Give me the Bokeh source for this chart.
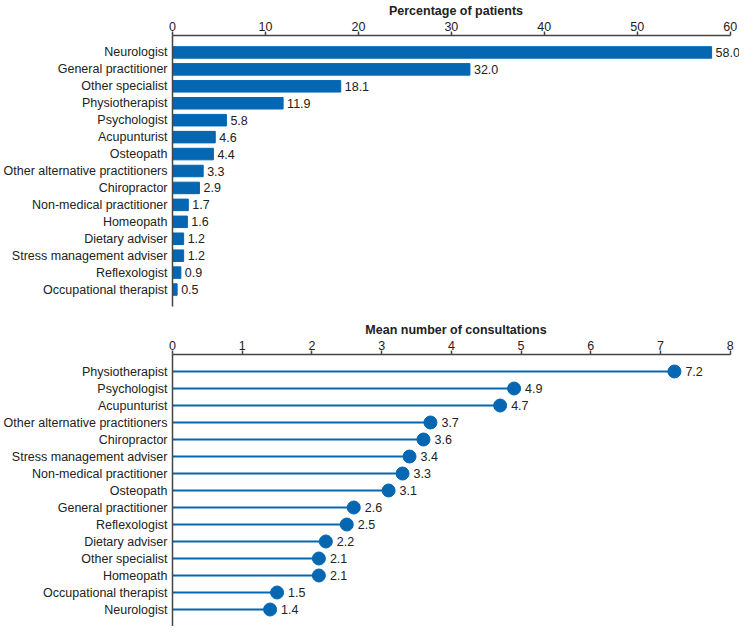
from bokeh.plotting import figure
from bokeh.models import ColumnDataSource, LabelSet, FactorRange, Range1d, FixedTicker
from bokeh.layouts import column
from bokeh.core.properties import value
from bokeh.embed import file_html
from bokeh.resources import INLINE

# ---- data ----
pct_categories = ["Neurologist", "General practitioner", "Other specialist", "Physiotherapist",
                  "Psychologist", "Acupunturist", "Osteopath", "Other alternative practitioners",
                  "Chiropractor", "Non-medical practitioner", "Homeopath", "Dietary adviser",
                  "Stress management adviser", "Reflexologist", "Occupational therapist"]
pct_values = [58.0, 32.0, 18.1, 11.9, 5.8, 4.6, 4.4, 3.3, 2.9, 1.7, 1.6, 1.2, 1.2, 0.9, 0.5]
pct_ticks = [0, 10, 20, 30, 40, 50, 60]

cons_categories = ["Physiotherapist", "Psychologist", "Acupunturist", "Other alternative practitioners",
                   "Chiropractor", "Stress management adviser", "Non-medical practitioner", "Osteopath",
                   "General practitioner", "Reflexologist", "Dietary adviser", "Other specialist",
                   "Homeopath", "Occupational therapist", "Neurologist"]
cons_values = [7.2, 4.9, 4.7, 3.7, 3.6, 3.4, 3.3, 3.1, 2.6, 2.5, 2.2, 2.1, 2.1, 1.5, 1.4]
cons_ticks = [0, 1, 2, 3, 4, 5, 6, 7, 8]

BLUE = "#0567b2"
FONT = "Liberation Sans"
FS = "12.5px"
TXT = "#222222"
AX = "#444444"
W = 739
LEFT = 168
PAD = 1.0 / 15


def style(p, ticks, label):
    p.xaxis.ticker = FixedTicker(ticks=ticks)
    p.xaxis.bounds = (ticks[0], ticks[-1])
    p.xaxis.minor_tick_line_color = None
    p.xaxis.major_tick_out = 4
    p.xaxis.major_tick_in = 0
    p.xaxis.major_label_standoff = 1
    p.xaxis.axis_label = label
    p.xaxis.axis_label_standoff = 1
    p.xaxis.axis_label_text_font_style = "bold"
    p.xaxis.axis_label_text_font = FONT
    p.xaxis.axis_label_text_font_size = FS
    p.xaxis.axis_label_text_color = TXT
    for ax in (p.xaxis, p.yaxis):
        ax.axis_line_color = AX
        ax.axis_line_width = 1.5
        ax.major_tick_line_color = AX
        ax.major_tick_line_width = 1.5
        ax.major_label_text_font = FONT
        ax.major_label_text_font_size = FS
        ax.major_label_text_color = TXT
    p.yaxis.major_tick_line_color = None
    p.yaxis.minor_tick_line_color = None
    p.yaxis.major_tick_out = 0
    p.yaxis.major_tick_in = 0
    p.yaxis.major_label_standoff = 5
    p.xgrid.grid_line_color = None
    p.ygrid.grid_line_color = None
    p.outline_line_color = None


# ---- top: percentage of patients ----
src1 = ColumnDataSource(dict(cat=pct_categories, val=pct_values,
                             lab=[f"{v:.1f}" for v in pct_values]))
p1 = figure(width=W, height=314,
            y_range=FactorRange(factors=list(reversed(pct_categories)), range_padding=PAD),
            x_range=Range1d(0, 61.0), x_axis_location="above",
            output_backend="svg", toolbar_location=None,
            min_border_left=LEFT, min_border_right=0, min_border_top=34, min_border_bottom=8)
p1.hbar(y="cat", left=0, right="val", height=0.68, source=src1,
        fill_color=BLUE, line_color=BLUE)
p1.add_layout(LabelSet(x="val", y="cat", text="lab", source=src1, x_offset=4,
                       text_baseline="middle", text_font=value(FONT),
                       text_font_size=value(FS), text_color=TXT))
style(p1, pct_ticks, "Percentage of patients")

# ---- bottom: mean number of consultations ----
src2 = ColumnDataSource(dict(cat=cons_categories, val=cons_values,
                             zero=[0] * len(cons_values),
                             lab=[f"{v:.1f}" for v in cons_values]))
p2 = figure(width=W, height=312,
            y_range=FactorRange(factors=list(reversed(cons_categories)), range_padding=PAD),
            x_range=Range1d(0, 8 * 61.0 / 60), x_axis_location="above",
            output_backend="svg", toolbar_location=None,
            min_border_left=LEFT, min_border_right=0, min_border_top=40, min_border_bottom=0)
p2.segment(x0="zero", y0="cat", x1="val", y1="cat", source=src2,
           line_color=BLUE, line_width=2)
p2.scatter(x="val", y="cat", source=src2, size=13, fill_color=BLUE, line_color=BLUE)
p2.add_layout(LabelSet(x="val", y="cat", text="lab", source=src2, x_offset=11,
                       text_baseline="middle", text_font=value(FONT),
                       text_font_size=value(FS), text_color=TXT))
style(p2, cons_ticks, "Mean number of consultations")

layout = column(p1, p2)
open("out.html", "w").write(file_html(layout, INLINE))
